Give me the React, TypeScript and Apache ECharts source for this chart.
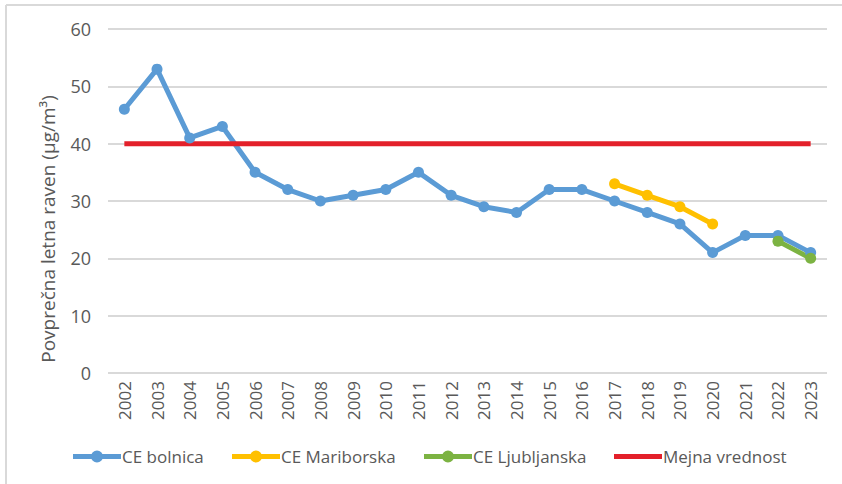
import React, { useEffect, useRef } from "react";
import * as echarts from "echarts";

const years = ["2002","2003","2004","2005","2006","2007","2008","2009","2010","2011","2012","2013","2014","2015","2016","2017","2018","2019","2020","2021","2022","2023"];
const bolnica = [46,53,41,43,35,32,30,31,32,35,31,29,28,32,32,30,28,26,21,24,24,21];
const mariborska = [null,null,null,null,null,null,null,null,null,null,null,null,null,null,null,33,31,29,26,null,null,null];
const ljubljanska = [null,null,null,null,null,null,null,null,null,null,null,null,null,null,null,null,null,null,null,null,23,20];
const mejna = [40,40,40,40,40,40,40,40,40,40,40,40,40,40,40,40,40,40,40,40,40,40];
const yTicks = [0, 60, 10];

const FONT = "Open Sans";
const GRAY = "#595959";
const LINE_MARKER_ICON = "path://M0,3.5H48V8.5H0Z M18,6a6,6 0 1,1 12,0a6,6 0 1,1 -12,0Z";

export default function App() {
  const ref = useRef<HTMLDivElement>(null);
  useEffect(() => {
    if (!ref.current) return;
    const chart = echarts.init(ref.current, null, { renderer: "svg" });
    const lineSeries = (name: string, data: any[], color: string, symbol = true) => ({
      name,
      type: "line",
      data,
      connectNulls: false,
      symbol: symbol ? "circle" : "none",
      symbolSize: 11,
      showSymbol: symbol,
      itemStyle: { color },
      lineStyle: { color, width: 5 },
      emphasis: { disabled: true },
    });
    const legendCommon = {
      top: 448,
      padding: 0,
      itemWidth: 48,
      itemHeight: 12,
      itemGap: 0,
      textStyle: { fontFamily: FONT, fontSize: 17, color: GRAY, padding: [0, 0, 0, -4] },
    };
    chart.setOption({
      animation: false,
      backgroundColor: "#ffffff",
      grid: { left: 108, right: 15, top: 29, height: 344, containLabel: false },
      xAxis: {
        type: "category",
        data: years,
        boundaryGap: true,
        axisLine: { show: false },
        axisTick: { show: false },
        axisLabel: { rotate: 90, fontFamily: FONT, fontSize: 17, color: GRAY, margin: 8 },
      },
      yAxis: {
        type: "value",
        min: yTicks[0],
        max: yTicks[1],
        interval: yTicks[2],
        axisLine: { show: false },
        axisTick: { show: false },
        axisLabel: { fontFamily: FONT, fontSize: 18, color: GRAY, margin: 17 },
        splitLine: { lineStyle: { color: "#d9d9d9", width: 2 } },
      },
      legend: [
        { ...legendCommon, left: 73, data: [{ name: "CE bolnica", icon: LINE_MARKER_ICON }] },
        { ...legendCommon, left: 232, data: [{ name: "CE Mariborska", icon: LINE_MARKER_ICON }] },
        { ...legendCommon, left: 424, data: [{ name: "CE Ljubljanska", icon: LINE_MARKER_ICON }] },
        { ...legendCommon, left: 614, itemHeight: 5, data: [{ name: "Mejna vrednost", icon: "rect" }] },
      ],
      graphic: [
        { type: "line", shape: { x1: 6, y1: 5, x2: 842, y2: 5 }, style: { stroke: "#d9d9d9", lineWidth: 2 } },
        { type: "line", shape: { x1: 6, y1: 5, x2: 6, y2: 484 }, style: { stroke: "#d9d9d9", lineWidth: 2 } },
        {
          type: "text",
          x: 48,
          y: 229,
          rotation: Math.PI / 2,
          style: {
            text: "Povprečna letna raven (µg/m³)",
            fontFamily: FONT,
            fontSize: 19,
            fill: GRAY,
            align: "center",
            verticalAlign: "middle",
          },
        },
      ],
      series: [
        lineSeries("CE bolnica", bolnica, "#5B9BD5"),
        lineSeries("CE Mariborska", mariborska, "#FFC000"),
        lineSeries("CE Ljubljanska", ljubljanska, "#7CB342"),
        lineSeries("Mejna vrednost", mejna, "#E3202A", false),
      ],
    });
    return () => chart.dispose();
  }, []);
  return <div ref={ref} style={{ width: 842, height: 484, position: "absolute", left: 0, top: 0 }} />;
}
